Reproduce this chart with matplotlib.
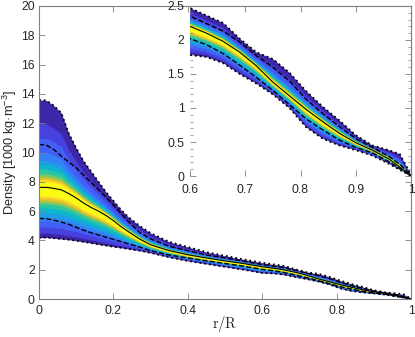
import numpy as np
import matplotlib
matplotlib.use("Agg")
from matplotlib import pyplot as plt
from matplotlib.colors import LinearSegmentedColormap

# radius grid and density profiles [1000 kg/m^3]
r = [0, 0.02, 0.04, 0.06, 0.08, 0.10, 0.12, 0.14, 0.16, 0.18, 0.20, 0.22, 0.24,
     0.27, 0.30, 0.35, 0.40, 0.45, 0.50, 0.55, 0.60, 0.63, 0.66, 0.69, 0.72,
     0.75, 0.78, 0.81, 0.84, 0.87, 0.90, 0.93, 0.96, 0.98, 1.00]
rho_max = [13.6, 13.55, 13.2, 12.7, 11.3, 10.3, 9.4, 8.7, 8.0, 7.3, 6.7, 6.1, 5.6,
           5.0, 4.5, 3.9, 3.55, 3.2, 2.95, 2.7, 2.47, 2.36, 2.25, 2.02, 1.82,
           1.72, 1.52, 1.25, 1.02, 0.82, 0.6, 0.45, 0.38, 0.32, 0.02]
rho_hi = [10.55, 10.5, 10.2, 9.75, 9.35, 8.95, 8.45, 7.95, 7.45, 6.95, 6.4, 5.85, 5.3,
          4.55, 4.1, 3.6, 3.3, 3.0, 2.8, 2.58, 2.35, 2.24, 2.13, 1.97, 1.77,
          1.6, 1.4, 1.13, 0.92, 0.73, 0.55, 0.42, 0.29, 0.17, 0.01]
rho_med = [7.62, 7.62, 7.55, 7.45, 7.2, 6.9, 6.55, 6.25, 6.0, 5.7, 5.35, 4.95, 4.6,
           4.1, 3.7, 3.3, 3.02, 2.8, 2.6, 2.42, 2.2, 2.1, 1.98, 1.82, 1.62,
           1.38, 1.18, 0.98, 0.8, 0.63, 0.49, 0.38, 0.25, 0.13, 0.0]
rho_lo = [5.5, 5.48, 5.38, 5.25, 5.1, 4.9, 4.7, 4.52, 4.37, 4.22, 4.07, 3.92, 3.77,
          3.55, 3.3, 3.0, 2.8, 2.6, 2.42, 2.24, 2.02, 1.93, 1.8, 1.63, 1.45,
          1.26, 1.05, 0.84, 0.68, 0.53, 0.42, 0.34, 0.21, 0.11, 0.0]
rho_min = [4.18, 4.2, 4.15, 4.1, 4.05, 3.98, 3.9, 3.82, 3.73, 3.65, 3.57, 3.5, 3.42,
           3.3, 3.15, 2.85, 2.6, 2.4, 2.2, 2.0, 1.78, 1.75, 1.66, 1.5, 1.36,
           1.2, 1.0, 0.72, 0.55, 0.45, 0.38, 0.3, 0.18, 0.09, 0.0]

parula = LinearSegmentedColormap.from_list("parula", [
    (0.2422, 0.1504, 0.6603), (0.2803, 0.2782, 0.9221), (0.2440, 0.4358, 0.9988),
    (0.1540, 0.5902, 0.9218), (0.0297, 0.7082, 0.8163), (0.1938, 0.7758, 0.6251),
    (0.5044, 0.7993, 0.3480), (0.8634, 0.7406, 0.1596), (0.9892, 0.8136, 0.1885),
    (0.9769, 0.9839, 0.0805)])

# fraction of the way from median to the envelope for each contour level
g_up = [1.0, 0.73, 0.56, 0.40, 0.31, 0.26, 0.21, 0.16, 0.13, 0.11, 0.09, 0.07]
g_lo = [1.0, 0.91, 0.79, 0.67, 0.59, 0.50, 0.41, 0.33, 0.29, 0.25, 0.21, 0.17]

x = np.array(r)
med = np.array(rho_med)
up = np.array(rho_max)
lo = np.array(rho_min)

plt.rcParams["font.family"] = ["Liberation Sans", "DejaVu Sans"]
plt.rcParams["font.size"] = 8.7
plt.rcParams["mathtext.fontset"] = "custom"
plt.rcParams["mathtext.rm"] = "Liberation Sans"
plt.rcParams["mathtext.it"] = "Liberation Sans:italic"

GRAY = "#808080"
TXT = "#262626"


def draw(ax):
    n = len(g_up)
    for k in range(n):
        top = med + (up - med) * g_up[k]
        bot = med - (med - lo) * g_lo[k]
        ax.fill_between(x, bot, top, color=parula(k / (n - 1)), lw=0)
    ax.plot(x, rho_max, ":", color="k", lw=1.3)
    ax.plot(x, rho_min, ":", color="k", lw=1.3)
    ax.plot(x, rho_hi, "--", color="k", lw=1)
    ax.plot(x, rho_lo, "--", color="k", lw=1)
    ax.plot(x, rho_med, "-", color="k", lw=0.8)


def style(ax):
    for s in ax.spines.values():
        s.set_color(GRAY)
        s.set_linewidth(0.8)
    ax.tick_params(direction="in", top=True, right=True, color=GRAY,
                   labelcolor=TXT, length=4, width=0.6)


fig = plt.figure(figsize=(4.15, 3.37), dpi=100)
ax = fig.add_axes([39 / 415, 1 - 299 / 337, 372 / 415, 293 / 337])
draw(ax)
style(ax)
ax.tick_params(axis="x", pad=4)
ax.tick_params(axis="y", pad=3)
ax.set_xlim(0, 1)
ax.set_ylim(0, 20)
ax.set_xticks([0, 0.2, 0.4, 0.6, 0.8, 1])
ax.set_xticklabels(["0", "0.2", "0.4", "0.6", "0.8", "1"])
ax.set_yticks(range(0, 21, 2))
ax.set_xlabel("$\\mathrm{r/R}$", math_fontfamily="cm", fontsize=10.5, color=TXT)
ax.xaxis.set_label_coords(0.5, -0.052)
ax.set_ylabel("Density [1000 kg·m$^{-3}$]", fontsize=9.2, color=TXT)
ax.yaxis.set_label_coords(-0.054, 0.5)

ins = fig.add_axes([190 / 415, 1 - 176 / 337, 221 / 415, 170 / 337])
draw(ins)
style(ins)
ins.spines["left"].set_visible(False)
ins.spines["bottom"].set_visible(False)
ins.set_xlim(0.6, 1)
ins.set_ylim(0, 2.5)
ins.set_xticks([0.6, 0.7, 0.8, 0.9, 1])
ins.set_xticklabels(["0.6", "0.7", "0.8", "0.9", "1"])
ins.set_yticks([0, 0.5, 1, 1.5, 2, 2.5])
ins.set_yticklabels(["0", "0.5", "1", "1.5", "2", "2.5"])
ins.set_yticks(np.arange(0, 2.51, 0.1), minor=True)
ins.tick_params(which="minor", direction="in", left=True, right=True,
                color=GRAY, length=2, width=0.5)
ins.tick_params(axis="x", pad=6)
ins.tick_params(axis="y", pad=4)

fig.savefig("out.png", dpi=100)
